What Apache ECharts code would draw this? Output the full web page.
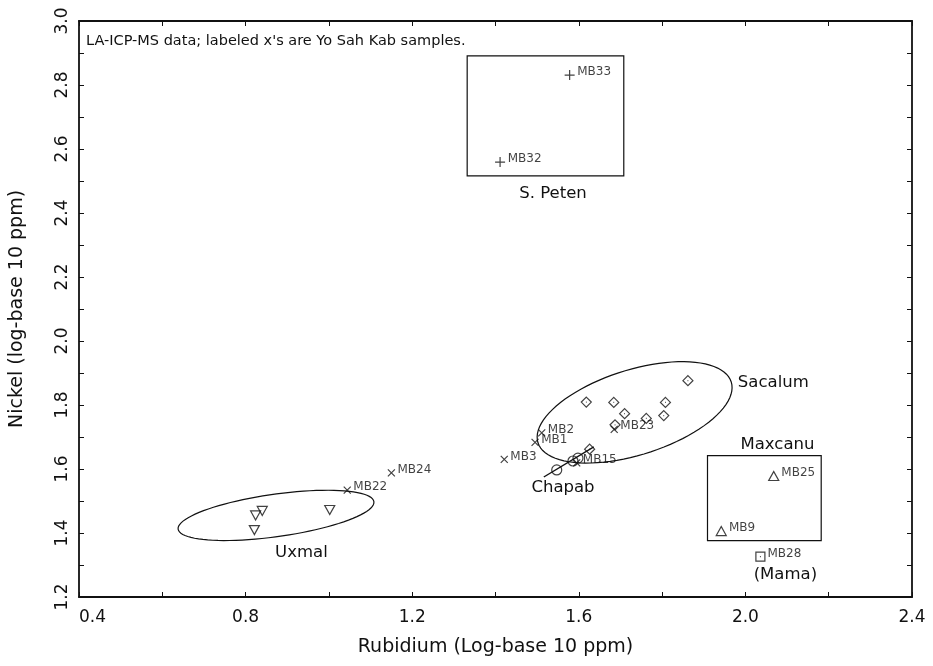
<!DOCTYPE html>
<html><head><meta charset="utf-8">
<script src="https://cdn.jsdelivr.net/npm/echarts@6/dist/echarts.min.js"></script>
<style>html,body{margin:0;padding:0;background:#fff}#c{width:933px;height:666px}</style>
</head><body><div id="c"></div>
<script>
// ---- data (Rubidium log10 ppm, Nickel log10 ppm) ----
var yoNames = ['MB1','MB2','MB3','MB15','MB22','MB23','MB24'];
var yoRb    = [1.495, 1.511, 1.421, 1.595, 1.044, 1.685, 1.150];
var yoNi    = [1.683, 1.713, 1.630, 1.619, 1.534, 1.724, 1.588];

var petenNames = ['MB32','MB33'];
var petenRb    = [1.411, 1.578];
var petenNi    = [2.559, 2.831];

var sacalumRb = [1.862, 1.618, 1.684, 1.808, 1.710, 1.804, 1.762, 1.687, 1.626];
var sacalumNi = [1.876, 1.809, 1.808, 1.808, 1.773, 1.767, 1.758, 1.738, 1.662];

var chapabRb = [1.547, 1.586, 1.598];
var chapabNi = [1.597, 1.625, 1.634];
var chapabLineRb = [1.516, 1.636];
var chapabLineNi = [1.575, 1.669];

var uxmalRb = [0.824, 0.840, 0.821, 1.002];
var uxmalNi = [1.455, 1.469, 1.409, 1.472];

var maxcanuNames = ['MB25','MB9'];
var maxcanuRb    = [2.068, 1.942];
var maxcanuNi    = [1.578, 1.406];

var mamaNames = ['MB28'];
var mamaRb    = [2.036];
var mamaNi    = [1.326];

// ellipses: centre Rb, centre Ni, major-axis end Rb, major-axis end Ni, minor/major ratio
var ellipseSacalum = [1.734, 1.777, 1.966, 1.872, 0.42];
var ellipseUxmal   = [0.873, 1.455, 1.108, 1.498, 0.215];

// boxes: [Rb min, Ni max], [Rb max, Ni min]
var boxPeten   = [[1.332, 2.891], [1.708, 2.516]];
var boxMaxcanu = [[1.909, 1.642], [2.182, 1.376]];

// group labels
var groupNames = ['Sacalum','Chapab','Uxmal','S. Peten','Maxcanu','(Mama)'];
var groupRb    = [2.067, 1.562, 0.934, 1.538, 2.077, 2.096];
var groupNi    = [1.869, 1.541, 1.338, 2.459, 1.675, 1.269];

var xTicks = [0.4, 2.4, 0.4];   // min, max, label interval
var yTicks = [1.2, 3.0, 0.2];

function pts(xs, ys, names){
  return xs.map(function(x,i){ var d = {value:[x, ys[i]]}; if(names) d.name = names[i]; return d; });
}

var FONT = 'DejaVu Sans';
var pointLabel = {show:true, position:'right', distance:2, offset:[0,-3], formatter:'{b}',
  fontFamily:FONT, fontSize:12, color:'#111'};
var hollow = {color:'rgba(0,0,0,0)', borderColor:'#111', borderWidth:1.2};

var chart = echarts.init(document.getElementById('c'), null, {renderer:'canvas'});

function axisCommon(){
  return {
    axisLine:{show:true, onZero:false, lineStyle:{color:'#111', width:1.8}},
    axisTick:{show:true, inside:true, length:5, lineStyle:{color:'#111', width:1}},
    minorTick:{show:true, splitNumber:2, length:5, lineStyle:{color:'#111', width:1}},
    splitLine:{show:false}, minorSplitLine:{show:false}
  };
}

var xb = Object.assign(axisCommon(), {type:'value', position:'bottom', min:xTicks[0], max:xTicks[1], interval:xTicks[2],
  name:'Rubidium (Log-base 10 ppm)', nameLocation:'middle', nameGap:41,
  nameTextStyle:{fontFamily:FONT, fontSize:19, color:'#111'},
  axisLabel:{show:true, margin:12, fontFamily:FONT, fontSize:17, color:'#111', alignMinLabel:'left',
    formatter:function(v){return v.toFixed(1);}}});
var xt = Object.assign(axisCommon(), {type:'value', position:'top', min:xTicks[0], max:xTicks[1], interval:xTicks[2],
  axisLabel:{show:false}});
var yl = Object.assign(axisCommon(), {type:'value', position:'left', min:yTicks[0], max:yTicks[1], interval:yTicks[2],
  name:'Nickel (log-base 10 ppm)', nameLocation:'middle', nameGap:52, nameRotate:90,
  nameTextStyle:{fontFamily:FONT, fontSize:19, color:'#111'},
  axisLabel:{show:true, rotate:90, margin:8, fontFamily:FONT, fontSize:17, color:'#111',
    formatter:function(v){return v.toFixed(1);}}});
var yr = Object.assign(axisCommon(), {type:'value', position:'right', min:yTicks[0], max:yTicks[1], interval:yTicks[2],
  axisLabel:{show:false}});

var xPath = 'path://M0,0L10,10M10,0L0,10';
var plusPath = 'path://M5,0L5,10M0,5L10,5';
var diamondDot = 'path://M5,0L10,5L5,10L0,5Z M4.6,5L5.4,5';
var squareDot = 'path://M0,0L10,0L10,10L0,10Z M4.5,5L5.5,5';

function ellipseRender(params, api){
  var c = api.coord([api.value(0), api.value(1)]);
  var e = api.coord([api.value(2), api.value(3)]);
  var dx = e[0]-c[0], dy = e[1]-c[1];
  var a = Math.sqrt(dx*dx+dy*dy), b = a*api.value(4), ang = Math.atan2(dy,dx);
  var p = [];
  for (var i=0;i<=90;i++){
    var t = i/90*2*Math.PI, u = a*Math.cos(t), w = b*Math.sin(t);
    p.push([c[0]+u*Math.cos(ang)-w*Math.sin(ang), c[1]+u*Math.sin(ang)+w*Math.cos(ang)]);
  }
  return {type:'polygon', shape:{points:p}, style:{fill:'none', stroke:'#111', lineWidth:1.2}};
}

function textRender(params, api){
  var c = api.coord([api.value(0), api.value(1)]);
  return {type:'text', x:c[0], y:c[1], style:{text:groupNames[params.dataIndex], align:'center', verticalAlign:'middle',
    fontFamily:FONT, fontSize:16.5, fill:'#111'}};
}

var option = {
  animation:false,
  backgroundColor:'#fff',
  title:{text:"LA-ICP-MS data; labeled x's are Yo Sah Kab samples.", left:81, top:29,
    textStyle:{fontFamily:FONT, fontSize:14.5, fontWeight:'normal', color:'#111'}},
  grid:{left:77, right:21, top:21, bottom:69, show:false},
  xAxis:[xb, xt],
  yAxis:[yl, yr],
  series:[
    {type:'custom', name:'ellipses', renderItem:ellipseRender, encode:{x:[0,2], y:[1,3]},
      data:[ellipseSacalum, ellipseUxmal], silent:true, z:1},
    {type:'scatter', name:'boxes', data:[], symbolSize:0, silent:true,
      markArea:{silent:true, itemStyle:{color:'rgba(0,0,0,0)', borderColor:'#111', borderWidth:1.2},
        data:[[{coord:boxPeten[0]},{coord:boxPeten[1]}],[{coord:boxMaxcanu[0]},{coord:boxMaxcanu[1]}]]}},
    {type:'line', name:'Chapab trend', data:chapabLineRb.map(function(x,i){return [x, chapabLineNi[i]];}),
      showSymbol:false, symbol:'none', lineStyle:{color:'#111', width:1.4}, z:2},
    {type:'scatter', name:'Sacalum', data:pts(sacalumRb, sacalumNi), symbol:diamondDot, symbolSize:10, itemStyle:hollow, z:3},
    {type:'scatter', name:'Chapab', data:pts(chapabRb, chapabNi), symbol:'circle', symbolSize:10, itemStyle:hollow, z:3},
    {type:'scatter', name:'Uxmal', data:pts(uxmalRb, uxmalNi), symbol:'triangle', symbolRotate:180, symbolSize:[10,9], itemStyle:hollow, z:3},
    {type:'scatter', name:'Maxcanu', data:pts(maxcanuRb, maxcanuNi, maxcanuNames), symbol:'triangle', symbolSize:[10,9], itemStyle:hollow, label:pointLabel, z:3},
    {type:'scatter', name:'Mama', data:pts(mamaRb, mamaNi, mamaNames), symbol:squareDot, symbolSize:9, itemStyle:hollow, label:pointLabel, z:3},
    {type:'scatter', name:'S. Peten', data:pts(petenRb, petenNi, petenNames), symbol:plusPath, symbolSize:10, itemStyle:hollow, label:pointLabel, z:4},
    {type:'scatter', name:'Yo Sah Kab', data:pts(yoRb, yoNi, yoNames), symbol:xPath, symbolSize:7, itemStyle:hollow, label:pointLabel, z:4},
    {type:'custom', name:'group labels', renderItem:textRender, encode:{x:0, y:1},
      data:groupRb.map(function(x,i){return [x, groupNi[i]];}), silent:true, z:5}
  ]
};
chart.setOption(option);
</script>
</body></html>
